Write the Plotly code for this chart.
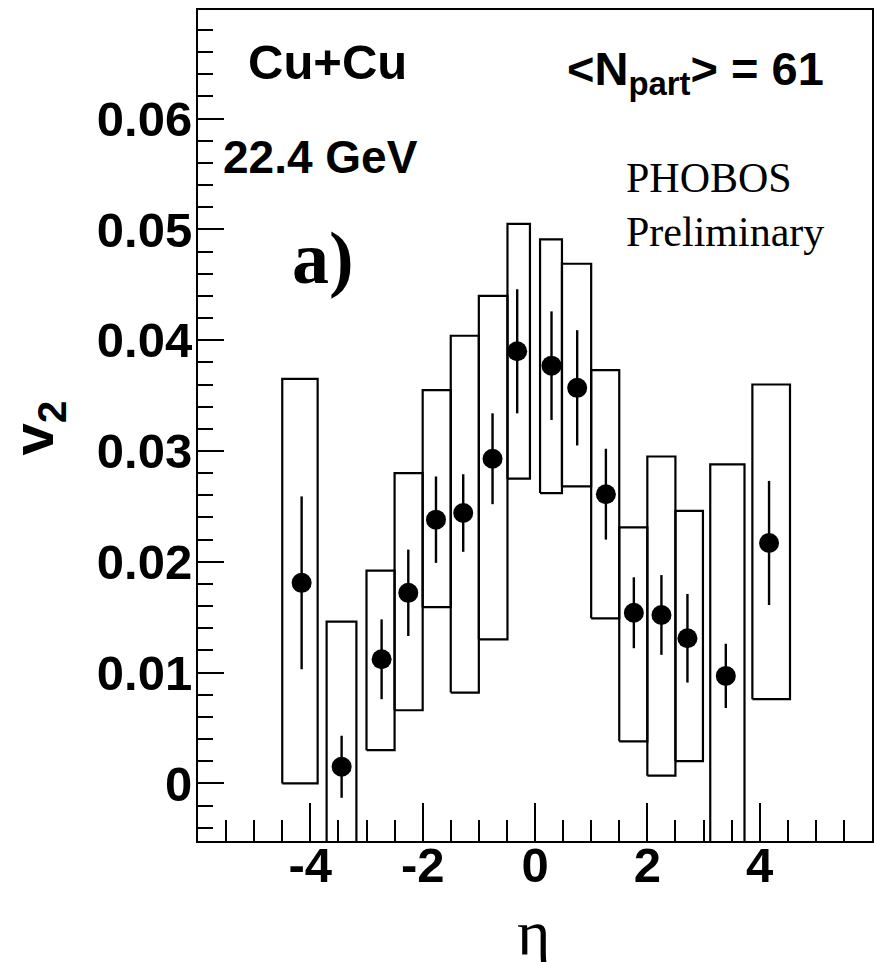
import plotly.graph_objects as go

# ---- data ----
eta      = [-4.155, -3.443, -2.731, -2.256, -1.763, -1.278, -0.756, -0.317,
            0.294, 0.751, 1.262, 1.760, 2.251, 2.714, 3.397, 4.167]
v2       = [0.0181, 0.0015, 0.0112, 0.0172, 0.0238, 0.0244, 0.0293, 0.0390,
            0.0377, 0.0357, 0.0261, 0.0154, 0.0152, 0.0131, 0.0097, 0.0217]
stat_err = [0.0078, 0.0028, 0.0036, 0.0039, 0.0039, 0.0035, 0.0041, 0.0056,
            0.0049, 0.0052, 0.0041, 0.0032, 0.0036, 0.0040, 0.0029, 0.0056]
sys_top  = [0.0365, 0.0146, 0.0192, 0.0280, 0.0355, 0.0404, 0.0440, 0.0505,
            0.0491, 0.0469, 0.0373, 0.0231, 0.0295, 0.0246, 0.0288, 0.0360]
sys_bot  = [0.0000, -0.0116, 0.0030, 0.0066, 0.0159, 0.0082, 0.0130, 0.0275,
            0.0262, 0.0268, 0.0149, 0.0038, 0.0007, 0.0020, -0.0094, 0.0076]
bin_lo   = [-4.50, -3.71, -3.00, -2.50, -2.00, -1.50, -1.00, -0.49,
            0.09, 0.48, 1.00, 1.50, 2.00, 2.50, 3.12, 3.87]
bin_hi   = [-3.87, -3.18, -2.50, -2.00, -1.50, -1.00, -0.49, -0.09,
            0.48, 1.00, 1.50, 2.00, 2.50, 2.99, 3.73, 4.54]

x_tickvals = [-4, -2, 0, 2, 4]
x_ticktext = ["-4", "-2", "0", "2", "4"]
y_tickvals = [0, 0.01, 0.02, 0.03, 0.04, 0.05, 0.06]
y_ticktext = ["0", "0.01", "0.02", "0.03", "0.04", "0.05", "0.06"]

SANS = "Liberation Sans, Arial, Helvetica, sans-serif"
SERIF = "Liberation Serif, Times New Roman, DejaVu Serif"
FS = 49

# systematic boxes as closed outlines
bx, by = [], []
for lo, hi, b, t in zip(bin_lo, bin_hi, sys_bot, sys_top):
    bx += [lo, hi, hi, lo, lo, None]
    by += [b, b, t, t, b, None]

fig = go.Figure()
fig.add_trace(go.Scatter(x=bx, y=by, mode="lines",
                         line=dict(color="black", width=2.2),
                         hoverinfo="skip", showlegend=False))
fig.add_trace(go.Scatter(x=eta, y=v2, mode="markers",
                         marker=dict(color="black", size=20, symbol="circle"),
                         error_y=dict(type="data", array=stat_err, visible=True,
                                      color="black", thickness=2.4, width=0),
                         showlegend=False))

fig.update_layout(
    width=874, height=962,
    margin=dict(l=198, r=0, t=10, b=121),
    paper_bgcolor="white", plot_bgcolor="white",
    xaxis=dict(range=[-6, 6], showgrid=False, zeroline=False,
               showline=True, linecolor="black", linewidth=2, mirror=True,
               ticks="inside", ticklen=38, tickwidth=1.6, tickcolor="black",
               tickmode="array", tickvals=x_tickvals, ticktext=x_ticktext,
               ticklabelstandoff=-20,
               tickfont=dict(family=SANS, size=FS, color="black", weight="bold"),
               minor=dict(tickmode="linear", tick0=0, dtick=0.5, ticks="inside",
                          ticklen=21, tickwidth=1.6, tickcolor="black")),
    yaxis=dict(range=[-0.0052, 0.0698], showgrid=False, zeroline=False,
               showline=True, linecolor="black", linewidth=2, mirror=True,
               ticks="inside", ticklen=26, tickwidth=2, tickcolor="black",
               tickmode="array", tickvals=y_tickvals, ticktext=y_ticktext,
               ticklabelstandoff=-6,
               tickfont=dict(family=SANS, size=FS, color="black", weight="bold"),
               minor=dict(tickmode="linear", tick0=0, dtick=0.002, ticks="inside",
                          ticklen=15, tickwidth=2, tickcolor="black")),
)

def px2paper(px, py):
    return (px - 198) / 676.0, (841 - py) / 831.0

def ann(text, px, py, family, size, weight="normal", xanchor="left", angle=0):
    x, y = px2paper(px, py)
    fig.add_annotation(text=text, x=x, y=y, xref="paper", yref="paper",
                       xanchor=xanchor, yanchor="middle", showarrow=False,
                       textangle=angle,
                       font=dict(family=family, size=size, color="black", weight=weight))

ann("Cu+Cu", 246, 62, SANS, 49, "bold")
ann("22.4 GeV", 221, 157, SANS, 46, "bold")
ann("&lt;N<sub>part</sub>&gt; = 61", 828, 72, SANS, 47, "bold", xanchor="right")
ann("a)", 290, 258, SERIF, 74, "bold")
ann("PHOBOS", 625, 178, SERIF, 42)
ann("Preliminary", 625, 232, SERIF, 42)
# axis titles
x, y = px2paper(534, 932)
fig.add_annotation(text="η", x=x, y=y, xref="paper", yref="paper", showarrow=False,
                   xanchor="center", yanchor="middle",
                   font=dict(family=SERIF, size=64, color="black"))
x, y = px2paper(37, 428)
fig.add_annotation(text="v<sub>2</sub>", x=x, y=y, xref="paper", yref="paper",
                   showarrow=False, xanchor="center", yanchor="middle", textangle=-90,
                   font=dict(family=SANS, size=58, color="black", weight="bold"))

fig.write_html("out.html")
